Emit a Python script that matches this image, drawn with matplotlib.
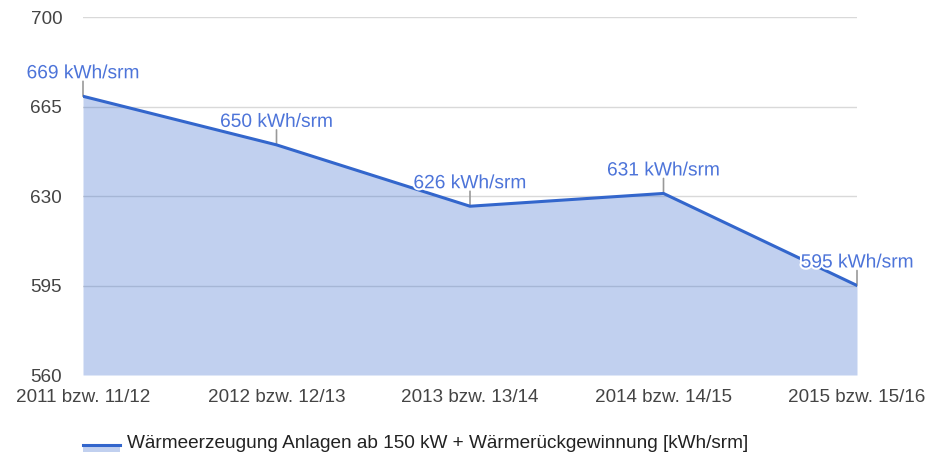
import matplotlib
matplotlib.use("Agg")
import matplotlib.pyplot as plt
import matplotlib.patheffects as pe
from matplotlib.lines import Line2D
from matplotlib.patches import Rectangle

categories = ["2011 bzw. 11/12", "2012 bzw. 12/13", "2013 bzw. 13/14", "2014 bzw. 14/15", "2015 bzw. 15/16"]
values = [669, 650, 626, 631, 595]
yticks = [560, 595, 630, 665, 700]
series_name = "Wärmeerzeugung Anlagen ab 150 kW + Wärmerückgewinnung [kWh/srm]"

plt.rcParams['font.family'] = ['Liberation Sans', 'DejaVu Sans']

W, H = 929, 459
fig = plt.figure(figsize=(W / 100, H / 100), dpi=100)
ax = fig.add_axes([83 / W, (H - 375) / H, (857 - 83) / W, (375 - 17) / H])

x = list(range(len(categories)))
line_c = '#3366cc'
ax.fill_between(x, yticks[0], values, color=line_c, alpha=0.3, linewidth=0, zorder=2)
ax.plot(x, values, color=line_c, linewidth=2.2, zorder=4, solid_joinstyle='round')

ax.set_xlim(0, len(categories) - 1)
ax.set_ylim(yticks[0], yticks[-1])
ax.set_yticks(yticks)
ax.set_xticks(x)
ax.set_xticklabels(categories)
for y in yticks[1:]:
    ax.axhline(y, color='#d9d9d9', linewidth=1, zorder=1)

for s in ax.spines.values():
    s.set_visible(False)
ax.tick_params(length=0, labelsize=13.6, colors='#444444')
ax.tick_params(axis='y', pad=15)
ax.tick_params(axis='x', pad=10)

px = 0.72
for xi, v in zip(x, values):
    ax.annotate('', xy=(xi, v), xytext=(0, 15 * px), textcoords='offset points',
                arrowprops=dict(arrowstyle='-', color='#999999', lw=1.2, shrinkA=0, shrinkB=0),
                zorder=3)
    t = ax.annotate(f"{v} kWh/srm", xy=(xi, v), xytext=(0, 18 * px), textcoords='offset points',
                    ha='center', va='baseline', fontsize=13.8, color='#4d74d9',
                    annotation_clip=False, zorder=6)
    t.set_path_effects([pe.withStroke(linewidth=3, foreground='white')])

# legend drawn in figure pixel coordinates
fig.add_artist(Rectangle((83 / W, 1 - 452 / H), 37 / W, 8 / H, transform=fig.transFigure,
                         facecolor=line_c, alpha=0.3, linewidth=0))
fig.add_artist(Line2D([83 / W, 120 / W], [1 - 444.5 / H, 1 - 444.5 / H], transform=fig.transFigure,
                      color=line_c, linewidth=2.2))
fig.text(127 / W, 1 - 443 / H, series_name, fontsize=13.7, color='#222222', va='center', ha='left')

fig.savefig('out.png', dpi=100)
